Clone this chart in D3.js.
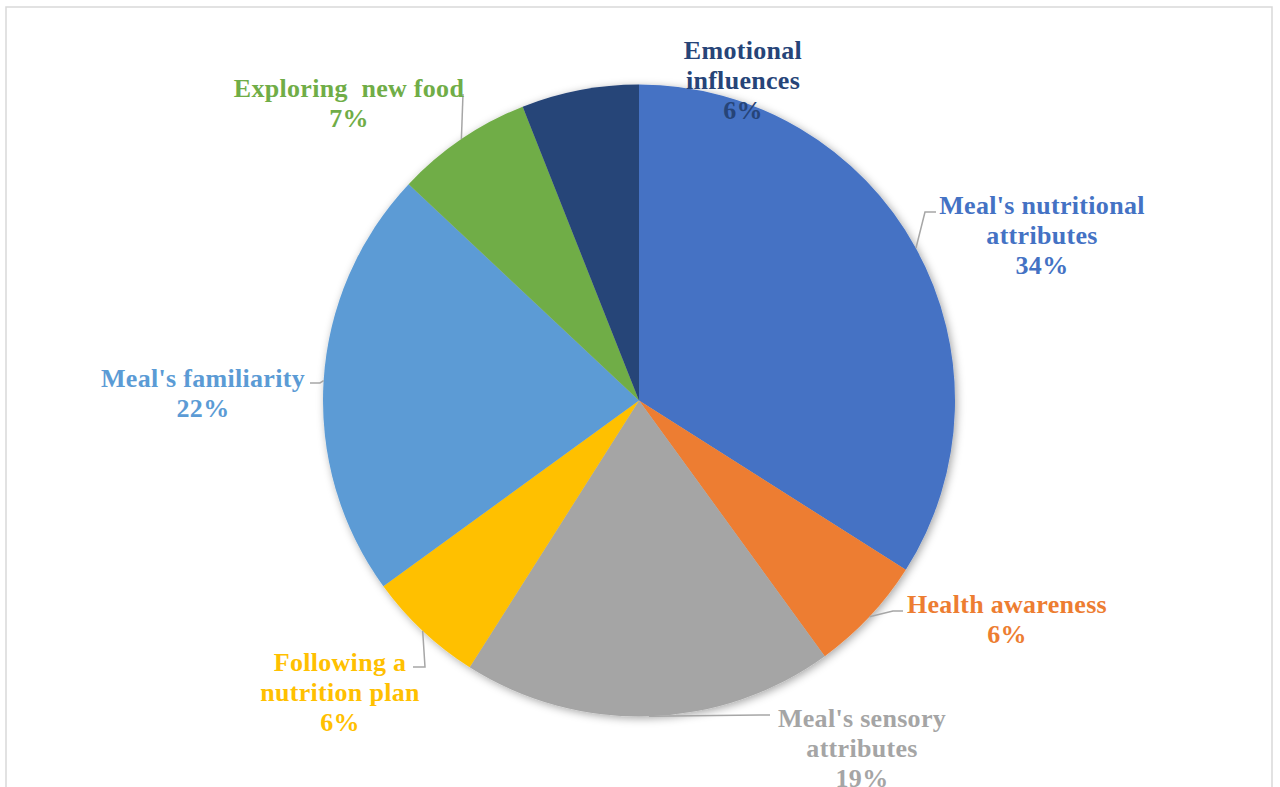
<!DOCTYPE html>
<html>
<head>
<meta charset="utf-8">
<script src="https://cdn.jsdelivr.net/npm/d3@7"></script>
<style>
  html, body { margin: 0; padding: 0; background: #ffffff; }
  svg { display: block; }
  text { font-family: "Liberation Serif", "Times New Roman", serif; font-weight: bold; }
</style>
</head>
<body>
<svg id="chart" width="1280" height="787"></svg>
<script>
// Factors influencing meal choice (share of responses, %)
const categories = [
  "Meal's nutritional attributes",
  "Health awareness",
  "Meal's sensory attributes",
  "Following a nutrition plan",
  "Meal's familiarity",
  "Exploring new food",
  "Emotional influences"
];
const values = [34, 6, 19, 6, 22, 7, 6];
const sliceColors = ["#4472C4", "#ED7D31", "#A5A5A5", "#FFC000", "#5B9BD5", "#70AD47", "#264478"];

// Label text broken into lines, per category
const labelLines = [
  ["Meal's nutritional", "attributes"],
  ["Health awareness"],
  ["Meal's sensory", "attributes"],
  ["Following a", "nutrition plan"],
  ["Meal's familiarity"],
  ["Exploring  new food"],
  ["Emotional", "influences"]
];

const W = 1280, H = 787;
const cx = 639, cy = 400.5, R = 316;
const fontSize = 26, lineH = 30;

// Label placement: centre x, first-line y, and the leader bend/end points
const labelLayout = [
  { x: 1042, y: 205, leader: [[925, 212], [936, 212]] },
  { x: 1007, y: 604, leader: [[893, 611], [903, 611]] },
  { x: 862,  y: 718, leader: [[760, 715], [770, 715]] },
  { x: 340,  y: 662, leader: [[425, 667], [413, 667]] },
  { x: 203,  y: 378, leader: [[320, 383], [310, 383]] },
  { x: 349,  y: 88,  leader: [[463, 94]] },
  { x: 743,  y: 50,  leader: null }
];

const svg = d3.select("#chart");

// chart-area frame
svg.append("rect")
  .attr("x", 6).attr("y", 7)
  .attr("width", 1266).attr("height", 800)
  .attr("fill", "#ffffff")
  .attr("stroke", "#d9d9d9")
  .attr("stroke-width", 1.5);

const defs = svg.append("defs");
const f = defs.append("filter").attr("id", "pieShadow")
  .attr("x", "-10%").attr("y", "-10%").attr("width", "120%").attr("height", "120%");
f.append("feDropShadow")
  .attr("dx", 2).attr("dy", 2)
  .attr("stdDeviation", 4)
  .attr("flood-color", "#000000")
  .attr("flood-opacity", 0.35);

const pie = d3.pie().sort(null).value(d => d)(values);
const arc = d3.arc().innerRadius(0).outerRadius(R);

const g = svg.append("g").attr("transform", `translate(${cx},${cy})`);

g.append("g").attr("filter", "url(#pieShadow)")
  .selectAll("path")
  .data(pie)
  .join("path")
  .attr("d", arc)
  .attr("fill", (d, i) => sliceColors[i]);

// leader lines: from the slice's outer mid-point to the label
const edgePoint = d => {
  const a = (d.startAngle + d.endAngle) / 2;
  return [cx + R * Math.sin(a), cy - R * Math.cos(a)];
};

svg.append("g").selectAll("path")
  .data(pie.filter((d, i) => labelLayout[i].leader))
  .join("path")
  .attr("d", d => d3.line()([edgePoint(d), ...labelLayout[d.index].leader]))
  .attr("fill", "none")
  .attr("stroke", "#a6a6a6")
  .attr("stroke-width", 1.5);

// labels
const labels = svg.append("g").selectAll("text")
  .data(pie)
  .join("text")
  .attr("text-anchor", "middle")
  .attr("font-size", fontSize)
  .attr("letter-spacing", 0.3)
  .attr("fill", (d, i) => sliceColors[i]);

labels.each(function (d, i) {
  const t = d3.select(this);
  const L = labelLayout[i];
  const lines = labelLines[i].concat([d.value + "%"]);
  lines.forEach((s, k) => {
    t.append("tspan")
      .attr("x", L.x)
      .attr("y", L.y + k * lineH)
      .attr("dy", "0.35em")
      .attr("xml:space", "preserve")
      .style("white-space", "pre")
      .text(s);
  });
});
</script>
</body>
</html>
